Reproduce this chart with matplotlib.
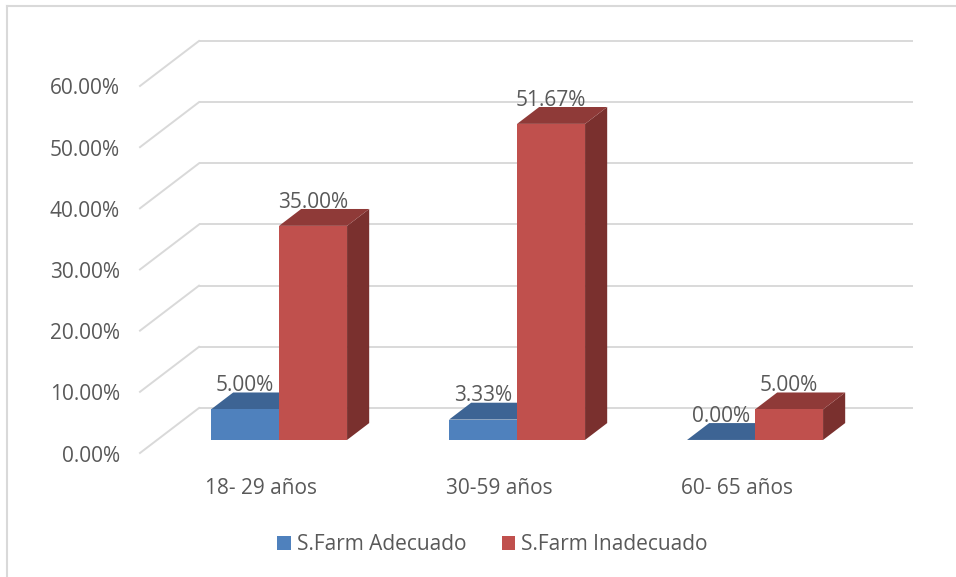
import matplotlib
matplotlib.use("Agg")
import matplotlib.pyplot as plt
from matplotlib.patches import Polygon, Patch
from matplotlib.lines import Line2D

# Data
categories = ["18- 29 años", "30-59 años", "60- 65 años"]
series_names = ["S.Farm Adecuado", "S.Farm Inadecuado"]
adecuado = [5.00, 3.33, 0.00]
inadecuado = [35.00, 51.67, 5.00]
y_ticks = [0, 10, 20, 30, 40, 50, 60]

# Styling
W, H, DPI = 956, 577, 100
TEXT = "#595959"
GRID = "#d9d9d9"
FONT = "Open Sans"
FS = 15
face_colors = {
    "front": ["#4F81BD", "#C0504D"],
    "top": ["#3D6494", "#8F3A38"],
    "side": ["#3A5F8C", "#7A302E"],
}

# Oblique projection parameters (pixel layout of the pseudo-3D frame)
X0, UNIT = 140.0, 238.0          # front-plane origin x and width of one category
Y0, SCALE = 453.0, 6.117         # front-plane zero line and pixels per percent
DEPTH_X = 59.0 / UNIT            # full depth shift in x (data units)
DEPTH_Y = 45.0 / SCALE           # full depth shift in y (percent units)
FRONT_T_X, FRONT_T_Y = 0.34, 0.29  # where bar fronts sit within the depth
BAR_T = 0.375                    # bar depth as a fraction of the full depth
BAR_W = 68.0 / UNIT
TXT_DROP = 3.0 / SCALE           # optical centring of text labels

fig = plt.figure(figsize=(W / DPI, H / DPI), dpi=DPI)
ax = fig.add_axes([0, 0, 1, 1])
ax.set_xlim(-X0 / UNIT, (W - X0) / UNIT)
ax.set_ylim((Y0 - H) / SCALE, Y0 / SCALE)
ax.axis("off")

n = len(categories)

# Walls: back-wall gridlines and side-wall diagonals
for v in y_ticks:
    ax.plot([DEPTH_X, n + DEPTH_X], [v + DEPTH_Y, v + DEPTH_Y],
            color=GRID, lw=1.4, zorder=1, solid_capstyle="butt")
    ax.plot([0, DEPTH_X], [v, v + DEPTH_Y], color=GRID, lw=1.4, zorder=1)
    ax.text(-20 / UNIT, v - TXT_DROP, f"{v:.2f}%", ha="right", va="center",
            color=TEXT, fontsize=FS, family=FONT)

ddx = DEPTH_X * BAR_T
ddy = DEPTH_Y * BAR_T


def draw_bar(x0, value, s, z):
    x1 = x0 + BAR_W
    b = FRONT_T_Y * DEPTH_Y
    top = value + b
    front = Polygon([(x0, b), (x1, b), (x1, top), (x0, top)], closed=True,
                    facecolor=face_colors["front"][s], edgecolor="none", zorder=z)
    topf = Polygon([(x0, top), (x1, top), (x1 + ddx, top + ddy), (x0 + ddx, top + ddy)],
                   closed=True, facecolor=face_colors["top"][s], edgecolor="none", zorder=z)
    side = Polygon([(x1, b), (x1 + ddx, b + ddy), (x1 + ddx, top + ddy), (x1, top)],
                   closed=True, facecolor=face_colors["side"][s], edgecolor="none", zorder=z)
    for p in (side, topf, front):
        ax.add_patch(p)
    ax.text((x0 + x1) / 2, top + ddy + 0.2, f"{value:.2f}%", ha="center",
            va="baseline", color=TEXT, fontsize=FS, family=FONT, zorder=z + 1)


for i in range(n):
    center = i + 0.5 + FRONT_T_X * DEPTH_X
    draw_bar(center - BAR_W, adecuado[i], 0, 3 + 2 * i)
    draw_bar(center, inadecuado[i], 1, 4 + 2 * i)
    ax.text(i + 0.5 + 2 / UNIT, -32 / SCALE - TXT_DROP, categories[i], ha="center",
            va="center", color=TEXT, fontsize=FS, family=FONT)

# Legend
handles = [Patch(facecolor=face_colors["front"][k], edgecolor="none", label=series_names[k])
           for k in range(2)]
leg = fig.legend(handles=handles, loc="center", bbox_to_anchor=(492.5 / W, 1 - 545 / H),
                 ncol=2, frameon=False, handlelength=0.63, handleheight=0.63,
                 handletextpad=0.3, columnspacing=1.7, borderpad=0,
                 prop={"family": FONT, "size": FS})
for t in leg.get_texts():
    t.set_color(TEXT)

# Chart area border (top and left edges)
fig.add_artist(Line2D([7 / W, 1], [1 - 6 / H, 1 - 6 / H], color=GRID, lw=1.5,
                      transform=fig.transFigure))
fig.add_artist(Line2D([7 / W, 7 / W], [0, 1 - 6 / H], color=GRID, lw=1.5,
                      transform=fig.transFigure))

fig.savefig("out.png", dpi=DPI, facecolor="white")
